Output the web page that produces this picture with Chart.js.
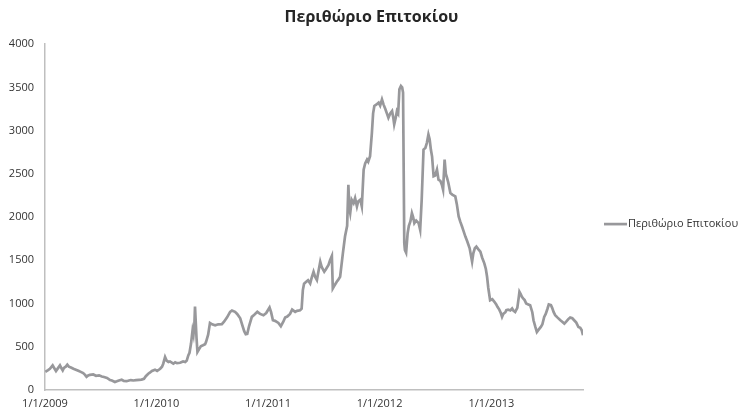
<!DOCTYPE html>
<html><head><meta charset="utf-8">
<script src="https://cdn.jsdelivr.net/npm/chart.js@4.4.0/dist/chart.umd.min.js"></script>
<style>html,body{margin:0;padding:0;background:#fff}#wrap{width:743px;height:414px;position:relative}</style>
</head><body><div id="wrap"><canvas id="c" width="743" height="414"></canvas></div>
<script>
const chartTitle = 'Περιθώριο Επιτοκίου';
const seriesName = 'Περιθώριο Επιτοκίου';

const dates = [
'2009-01-02','2009-01-11','2009-01-17','2009-01-26','2009-01-30','2009-02-06','2009-02-12','2009-02-19','2009-02-24','2009-02-28',
'2009-03-04','2009-03-10','2009-03-15','2009-03-20','2009-03-27','2009-04-04','2009-04-12','2009-04-22','2009-04-28','2009-05-06',
'2009-05-12','2009-05-17','2009-05-21','2009-05-28','2009-06-08','2009-06-17','2009-06-27','2009-07-06','2009-07-13','2009-07-23',
'2009-08-02','2009-08-08','2009-08-18','2009-08-24','2009-08-31','2009-09-09','2009-09-16','2009-09-25','2009-10-03','2009-10-09',
'2009-10-17','2009-10-26','2009-11-05','2009-11-13','2009-11-21','2009-11-27','2009-12-05','2009-12-10','2009-12-17','2009-12-27',
'2010-01-03','2010-01-13','2010-01-19','2010-01-23','2010-01-29','2010-02-03','2010-02-09','2010-02-14','2010-02-25','2010-03-03',
'2010-03-09','2010-03-19','2010-03-29','2010-04-05','2010-04-10','2010-04-15','2010-04-19','2010-04-24','2010-04-29','2010-05-02',
'2010-05-05','2010-05-07','2010-05-12','2010-05-15','2010-05-20','2010-05-26','2010-06-02','2010-06-09','2010-06-12','2010-06-19',
'2010-06-25','2010-07-02','2010-07-12','2010-07-22','2010-08-03','2010-08-10','2010-08-20','2010-08-30','2010-09-05','2010-09-15',
'2010-09-22','2010-10-02','2010-10-08','2010-10-15','2010-10-20','2010-10-25','2010-10-31','2010-11-09','2010-11-17','2010-11-27',
'2010-12-06','2010-12-17','2010-12-26',
'2011-01-06','2011-01-11','2011-01-17','2011-01-24','2011-02-04','2011-02-12','2011-02-20','2011-02-26','2011-03-05','2011-03-14',
'2011-03-21','2011-03-31','2011-04-06','2011-04-16','2011-04-21','2011-04-25','2011-04-29','2011-05-06','2011-05-12','2011-05-19',
'2011-05-24','2011-05-30','2011-06-04','2011-06-10','2011-06-14','2011-06-21','2011-06-26','2011-07-04','2011-07-10','2011-07-18',
'2011-07-23','2011-07-29','2011-08-01','2011-08-05','2011-08-14','2011-08-18','2011-08-25','2011-09-03','2011-09-10','2011-09-17',
'2011-09-21','2011-09-24','2011-09-27','2011-10-02','2011-10-08','2011-10-13','2011-10-19','2011-10-23','2011-10-30','2011-11-04',
'2011-11-10','2011-11-15','2011-11-21','2011-11-25','2011-12-01','2011-12-07','2011-12-11','2011-12-15','2011-12-21','2011-12-29',
'2012-01-03','2012-01-09','2012-01-14','2012-01-20','2012-01-25','2012-01-30','2012-02-05','2012-02-11','2012-02-15','2012-02-18',
'2012-02-23','2012-02-27','2012-03-02','2012-03-06','2012-03-11','2012-03-15','2012-03-18','2012-03-22','2012-03-24','2012-03-28',
'2012-04-02','2012-04-06','2012-04-11','2012-04-16','2012-04-20','2012-04-24','2012-04-30','2012-05-08','2012-05-13','2012-05-18',
'2012-05-24','2012-05-30','2012-06-04','2012-06-09','2012-06-13','2012-06-17','2012-06-21','2012-06-26','2012-07-01','2012-07-07',
'2012-07-12','2012-07-18','2012-07-23','2012-07-27','2012-08-01','2012-08-05','2012-08-09','2012-08-13','2012-08-20','2012-08-26',
'2012-09-05','2012-09-10','2012-09-16','2012-09-21','2012-09-27','2012-10-01','2012-10-08','2012-10-14','2012-10-22','2012-10-26',
'2012-10-30','2012-11-03','2012-11-08','2012-11-13','2012-11-19','2012-11-26','2012-12-02','2012-12-09','2012-12-14','2012-12-18',
'2012-12-22','2012-12-28',
'2013-01-04','2013-01-11','2013-01-17','2013-01-21','2013-01-27','2013-02-01','2013-02-05','2013-02-09','2013-02-16','2013-02-19',
'2013-02-25','2013-03-04','2013-03-10','2013-03-14','2013-03-20','2013-03-27','2013-04-01','2013-04-03','2013-04-07','2013-04-11',
'2013-04-15','2013-04-20','2013-04-25','2013-05-02','2013-05-08','2013-05-15','2013-05-19','2013-05-25','2013-05-30','2013-06-03',
'2013-06-12','2013-06-17','2013-06-23','2013-06-28','2013-07-04','2013-07-08','2013-07-15','2013-07-19','2013-07-24','2013-07-29',
'2013-08-05','2013-08-15','2013-08-21','2013-08-28','2013-09-03','2013-09-10','2013-09-16','2013-09-23','2013-09-29','2013-10-06',
'2013-10-13','2013-10-19','2013-10-24','2013-10-28'
];

const spread = [
210,230,245,285,260,220,250,285,250,226,
255,270,292,270,260,246,235,220,210,195,
175,152,165,175,180,165,170,157,150,140,
115,110,92,100,110,118,105,102,110,115,
110,115,118,120,130,160,188,200,220,235,
220,246,270,304,381,340,323,330,304,320,
310,315,330,323,340,400,430,537,690,640,
760,965,600,439,470,505,517,530,555,640,
776,760,749,760,761,790,840,904,920,904,
880,830,760,680,645,650,740,846,870,904,
880,865,890,
955,900,807,800,776,738,790,839,850,880,
930,904,915,923,940,1156,1230,1252,1270,1233,
1300,1368,1310,1272,1350,1484,1420,1368,1400,1446,
1500,1550,1175,1200,1252,1270,1310,1581,1775,1900,
2375,2100,2046,2200,2162,2220,2123,2180,2201,2123,
2549,2620,2665,2640,2704,2975,3200,3285,3300,3324,
3290,3362,3304,3250,3200,3150,3200,3227,3150,3072,
3150,3227,3200,3478,3517,3500,3440,1700,1620,1589,
1814,1900,1950,2046,2000,1930,1960,1930,1853,2200,
2781,2800,2859,2955,2900,2781,2700,2472,2480,2549,
2433,2420,2375,2317,2665,2500,2453,2400,2278,2260,
2239,2150,2007,1950,1891,1850,1775,1720,1640,1560,
1484,1580,1640,1659,1630,1600,1530,1465,1400,1310,
1180,1039,
1050,1020,990,962,930,890,846,880,900,923,
930,920,943,920,904,950,1080,1136,1110,1078,
1060,1040,1001,990,981,900,807,730,671,690,
729,760,846,880,943,990,981,950,900,865,
840,807,790,768,790,820,839,830,807,780,
729,720,690,633
];

const yTicks = [0, 500, 1000, 1500, 2000, 2500, 3000, 3500, 4000];
const xTickDates = ['2009-01-01', '2010-01-01', '2011-01-01', '2012-01-01', '2013-01-01'];
const xTickLabels = ['1/1/2009', '1/1/2010', '1/1/2011', '1/1/2012', '1/1/2013'];

const ORIGIN = Date.UTC(2009, 0, 1);
function dayOf(s) {
  const p = s.split('-').map(Number);
  return Math.round((Date.UTC(p[0], p[1] - 1, p[2]) - ORIGIN) / 86400000);
}
const points = dates.map((d, i) => ({ x: dayOf(d), y: spread[i] }));
const xTickDays = xTickDates.map(dayOf);
const labelByDay = {};
xTickDays.forEach((d, i) => { labelByDay[d] = xTickLabels[i]; });

const FONT = "'Open Sans', 'Noto Sans', sans-serif";
const axisColor = '#bfbfbf';
const textColor = '#333333';
const lineColor = '#98989b';

// Legend drawn to the right of the plot, using the dataset's own label and style
const sideLegend = {
  id: 'sideLegend',
  afterDraw(chart) {
    const ctx = chart.ctx;
    const ds = chart.data.datasets[0];
    const x0 = chart.chartArea.right + 21;
    const y0 = (chart.chartArea.top + chart.chartArea.bottom) / 2 + 7;
    ctx.save();
    ctx.strokeStyle = ds.borderColor;
    ctx.lineWidth = ds.borderWidth;
    ctx.beginPath();
    ctx.moveTo(x0, y0);
    ctx.lineTo(x0 + 23, y0);
    ctx.stroke();
    ctx.fillStyle = textColor;
    ctx.font = "11px " + FONT;
    ctx.textBaseline = 'middle';
    ctx.textAlign = 'left';
    ctx.fillText(ds.label, x0 + 24, y0);
    ctx.restore();
  }
};

new Chart(document.getElementById('c'), {
  type: 'line',
  data: {
    datasets: [{
      label: seriesName,
      data: points,
      borderColor: lineColor,
      backgroundColor: lineColor,
      borderWidth: 2.7,
      pointRadius: 0,
      tension: 0,
      fill: false
    }]
  },
  options: {
    responsive: false,
    animation: false,
    devicePixelRatio: 1,
    layout: { padding: { left: 0, right: 0, top: 0, bottom: 0 } },
    plugins: {
      title: {
        display: true,
        text: chartTitle,
        color: '#262626',
        font: { family: FONT, size: 16, weight: 'bold' },
        padding: { top: 8, bottom: 17 }
      },
      legend: { display: false },
      tooltip: { enabled: false }
    },
    scales: {
      x: {
        type: 'linear',
        min: 0,
        max: points[points.length - 1].x,
        grid: { display: false, drawTicks: false },
        border: { display: true, color: axisColor, width: 1.5 },
        afterBuildTicks: (scale) => { scale.ticks = xTickDays.map(v => ({ value: v })); },
        afterFit: (scale) => { scale.height = 24; },
        ticks: {
          autoSkip: false,
          maxRotation: 0,
          padding: 7,
          color: textColor,
          font: { family: FONT, size: 11 },
          callback: (v) => labelByDay[v] || ''
        }
      },
      y: {
        min: 0,
        max: 4000,
        grid: { display: false, drawTicks: false },
        border: { display: true, color: axisColor, width: 1.5 },
        afterBuildTicks: (scale) => { scale.ticks = yTicks.map(v => ({ value: v })); },
        afterFit: (scale) => { scale.width = 45; },
        ticks: {
          padding: 11,
          color: textColor,
          font: { family: FONT, size: 11 },
          callback: (v) => String(v)
        }
      },
      legendSpace: {
        type: 'linear',
        position: 'right',
        display: true,
        grid: { display: false, drawTicks: false },
        border: { display: false },
        ticks: { display: false },
        afterFit: (scale) => { scale.width = 160; }
      }
    }
  },
  plugins: [sideLegend]
});
</script>
</body></html>
